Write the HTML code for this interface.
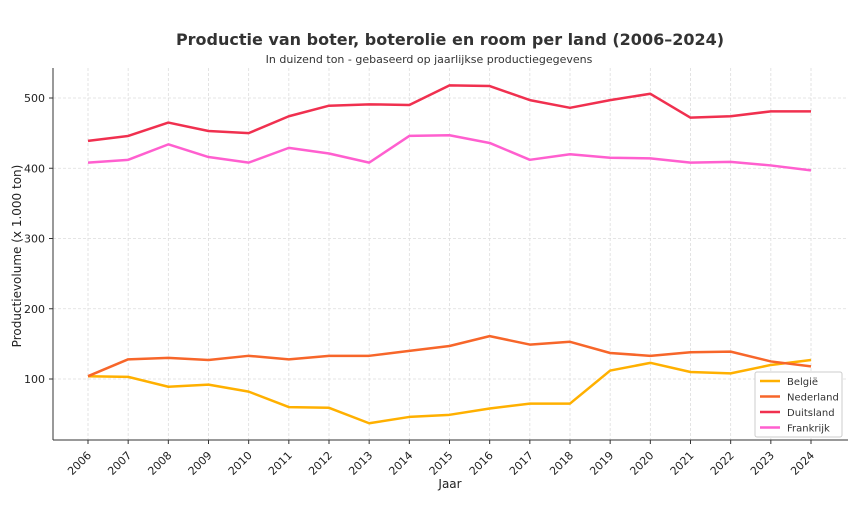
<!DOCTYPE html>
<html><head><meta charset="utf-8"><style>
body{margin:0;background:#fff;font-family:"Liberation Sans","DejaVu Sans",sans-serif}
svg text{font-family:"DejaVu Sans","Liberation Sans",sans-serif}
</style></head><body>
<svg id="c" width="858" height="501">
<text x="450" y="45" text-anchor="middle" font-size="16" font-weight="bold" fill="#333">Productie van boter, boterolie en room per land (2006–2024)</text>
<text x="429" y="63" text-anchor="middle" font-size="11" fill="#333">In duizend ton - gebaseerd op jaarlijkse productiegegevens</text>
<g id="grid"></g><g id="axes"></g><g id="series"></g><g id="legend"></g>
</svg>
<script>
const years=[2006,2007,2008,2009,2010,2011,2012,2013,2014,2015,2016,2017,2018,2019,2020,2021,2022,2023,2024];
const yTicks=[100,200,300,400,500];
const belgie=[104,103,89,92,82,60,59,37,46,49,58,65,65,112,123,110,108,120,127];
const nederland=[104,128,130,127,133,128,133,133,140,147,161,149,153,137,133,138,139,125,118];
const duitsland=[439,446,465,453,450,474,489,491,490,518,517,497,486,497,506,472,474,481,481];
const frankrijk=[408,412,434,416,408,429,421,408,446,447,436,412,420,415,414,408,409,404,397];
const names=["België","Nederland","Duitsland","Frankrijk"];
const colors=["#ffb000","#f7662a","#f0304f","#ff5fcf"];
const NS="http://www.w3.org/2000/svg";
const L=53,R=848,T=68,B=440;
const x=i=>88+(811-88)*i/(years.length-1);
const y=v=>379-(v-100)*0.7025;
function mk(t,a,p){const e=document.createElementNS(NS,t);for(const k in a)e.setAttribute(k,a[k]);p.appendChild(e);return e;}
const g=document.getElementById('grid'),ax=document.getElementById('axes'),s=document.getElementById('series'),lg=document.getElementById('legend');
years.forEach((yr,i)=>{
 const l=mk('line',{x1:x(i),x2:x(i),y1:T,y2:B,stroke:'#ddd','stroke-dasharray':'3,2','stroke-width':0.8},g);
 
 
 const tk=mk('line',{x1:x(i),x2:x(i),y1:B,y2:B+4,stroke:'#333'},ax);
 
 
 const t=mk('text',{x:x(i)+4,y:B+16,'font-size':11,fill:'#222','text-anchor':'end',transform:`rotate(-45 ${x(i)+4} ${B+16})`},ax);
 t.textContent=yr;
 
 
});
yTicks.forEach(v=>{
 const l=mk('line',{x1:L,x2:R,y1:y(v),y2:y(v),stroke:'#ddd','stroke-dasharray':'3,2','stroke-width':0.8},g);
 
 
 const tk=mk('line',{x1:L-4,x2:L,y1:y(v),y2:y(v),stroke:'#333'},ax);
 
 
 const t=mk('text',{x:L-8,y:y(v)+4,'font-size':11,fill:'#222','text-anchor':'end'},ax);
 t.textContent=v;
 
 
});
const la=mk('line',{x1:L,x2:L,y1:T,y2:B,stroke:'#333'},ax);


const lb=mk('line',{x1:L,x2:R,y1:B,y2:B,stroke:'#333'},ax);


const xt=mk('text',{x:450,y:488,'font-size':12,fill:'#222','text-anchor':'middle'},ax);
xt.textContent='Jaar';


const yt=mk('text',{x:21,y:256,'font-size':12,fill:'#222','text-anchor':'middle',transform:'rotate(-90 21 256)'},ax);
yt.textContent='Productievolume (x 1.000 ton)';


[belgie,nederland,duitsland,frankrijk].forEach((d,k)=>{
 const p=mk('polyline',{points:d.map((v,i)=>x(i)+','+y(v)).join(' '),fill:'none',stroke:colors[k],'stroke-width':2.5,'stroke-linejoin':'round'},s);
 
 
});
const box=mk('rect',{x:755,y:372,width:87,height:65,fill:'#fff',stroke:'#ccc',rx:2},lg);


names.forEach((n,k)=>{
 const yy=381+k*15.5;
 const l=mk('line',{x1:760,x2:780,y1:yy,y2:yy,stroke:colors[k],'stroke-width':2.5},lg);
 
 
 const t=mk('text',{x:787,y:yy+4,'font-size':10,fill:'#333'},lg);
 t.textContent=n;
 
 
});
</script>
</body></html>
